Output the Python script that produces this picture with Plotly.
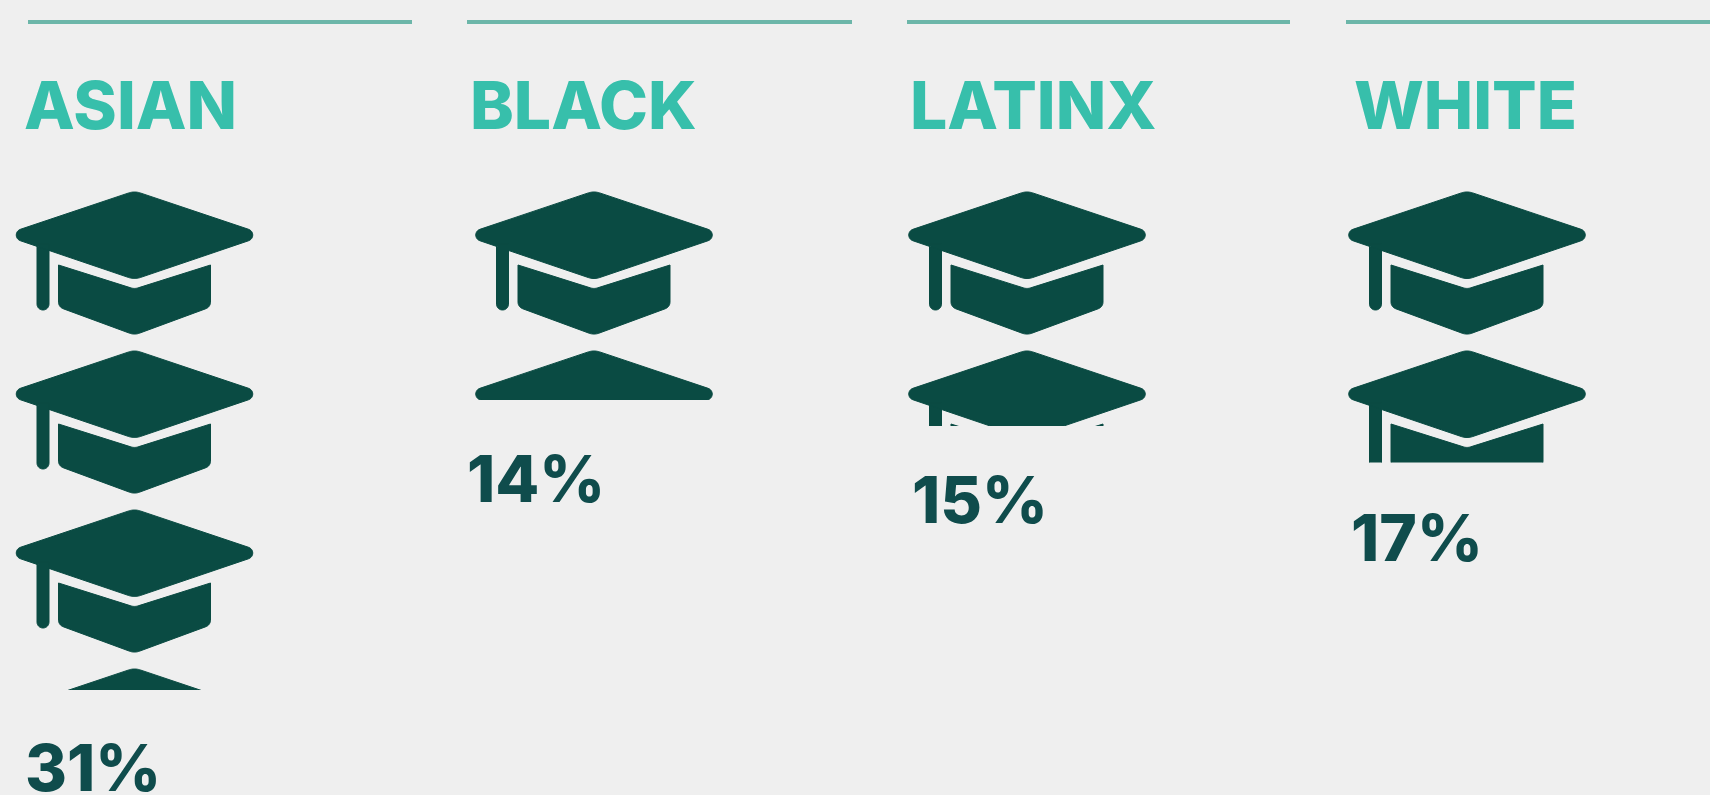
import math
import plotly.graph_objects as go

# ---- data ----
groups = ["ASIAN", "BLACK", "LATINX", "WHITE"]
percent_labels = ["31%", "14%", "15%", "17%"]
icons_filled = [3.132, 1.308, 1.472, 1.702]   # how many graduation caps each column fills

# ---- layout constants (pixels of the 1710x795 page) ----
W, H = 1710, 795
PITCH = 159.0
ICON_TOP = 192.0
centres = [134.5, 594.0, 1027.0, 1467.0]
rules = [(28, 412), (467, 852), (907, 1290), (1346, 1710)]
header_x = [23, 469, 909, 1353]
label_x = [24, 466, 911, 1350]
label_y = [767, 478, 499, 537]
RULE_Y = 22
HEADER_Y = 105
HALF = 128.0

BG = "#EFEFEF"
TEAL = "#37BFAB"
RULE = "#6CB6A9"
DARK = "#0A4B43"
LABEL = "#0F4C4C"


def rounded(verts):
    """verts: (x, y, R). Closed outline whose corners are circular arcs of radius R."""
    out = []
    n = len(verts)
    for i, (x, y, R) in enumerate(verts):
        if R == 0:
            out.append((x, y))
            continue
        px, py, _ = verts[i - 1]
        nx, ny, _ = verts[(i + 1) % n]
        ux, uy = px - x, py - y
        vx, vy = nx - x, ny - y
        lu, lv = math.hypot(ux, uy), math.hypot(vx, vy)
        ux, uy, vx, vy = ux / lu, uy / lu, vx / lv, vy / lv
        theta = math.acos(max(-1, min(1, ux * vx + uy * vy)))
        t = R / math.tan(theta / 2)
        bx, by = ux + vx, uy + vy
        bl = math.hypot(bx, by)
        d = R / math.sin(theta / 2)
        cx, cy = x + bx / bl * d, y + by / bl * d
        a0 = math.atan2(y + uy * t - cy, x + ux * t - cx)
        a1 = math.atan2(y + vy * t - cy, x + vx * t - cx)
        da = (a1 - a0 + math.pi) % (2 * math.pi) - math.pi
        for k in range(13):
            a = a0 + da * k / 12
            out.append((cx + R * math.cos(a), cy + R * math.sin(a)))
    out.append(out[0])
    return out


BOARD = rounded([(0, -1, 18), (131, 43, 6), (0, 87.5, 18), (-131, 43, 6)])
TASSEL = rounded([(-97.5, 52, 0), (-85.5, 52, 0), (-85.5, 118, 5.9), (-97.5, 118, 5.9)])
BODY = rounded([(-76, 73, 0), (0, 97, 12), (76, 73, 0), (76, 115, 7), (0, 143, 14), (-76, 115, 7)])
PARTS = [BOARD, TASSEL, BODY]

fig = go.Figure()
layout = {}
for c, name in enumerate(groups):
    xs, ys = [], []
    for i in range(math.ceil(icons_filled[c])):
        for part in PARTS:
            for px, py in part:
                xs.append(px / PITCH)
                ys.append(i + py / PITCH)
            xs.append(None)
            ys.append(None)
    suffix = "" if c == 0 else str(c + 1)
    fig.add_trace(go.Scatter(
        x=xs, y=ys, mode="lines", fill="toself", fillcolor=DARK,
        line=dict(width=1, color=DARK, simplify=False), hoverinfo="skip", showlegend=False,
        name=name, xaxis="x" + suffix, yaxis="y" + suffix,
    ))
    # The column's plot area ends where the filled share ends: the axis clips the caps.
    bottom_px = ICON_TOP + icons_filled[c] * PITCH
    layout["xaxis" + suffix] = dict(
        domain=[(centres[c] - HALF) / W, (centres[c] + HALF) / W],
        range=[-HALF / PITCH, HALF / PITCH], visible=False, fixedrange=True,
        anchor="y" + suffix,
    )
    layout["yaxis" + suffix] = dict(
        domain=[1 - bottom_px / H, 1 - (ICON_TOP - 2) / H],
        range=[icons_filled[c], -2 / PITCH], visible=False, fixedrange=True,
        anchor="x" + suffix,
    )

shapes = [
    dict(type="line", xref="paper", yref="paper",
         x0=a / W, x1=b / W, y0=1 - RULE_Y / H, y1=1 - RULE_Y / H,
         line=dict(color=RULE, width=4))
    for a, b in rules
]

annotations = []
for c, name in enumerate(groups):
    annotations.append(dict(
        text=name, xref="paper", yref="paper", x=header_x[c] / W, y=1 - HEADER_Y / H,
        xanchor="left", yanchor="middle", showarrow=False, borderpad=0,
        font=dict(family="Inter", size=66, color=TEAL, weight=800),
    ))
    annotations.append(dict(
        text=percent_labels[c], xref="paper", yref="paper", x=label_x[c] / W, y=1 - label_y[c] / H,
        xanchor="left", yanchor="middle", showarrow=False, borderpad=0,
        font=dict(family="Inter", size=64, color=LABEL, weight=800),
    ))

fig.update_layout(
    width=W, height=H, margin=dict(l=0, r=0, t=0, b=0),
    paper_bgcolor=BG, plot_bgcolor="rgba(0,0,0,0)",
    shapes=shapes, annotations=annotations, **layout,
)
fig.write_html(
    "out.html",
    config=dict(displayModeBar=False),
    post_script="document.body.style.margin='0';document.documentElement.style.overflow='hidden';",
)
